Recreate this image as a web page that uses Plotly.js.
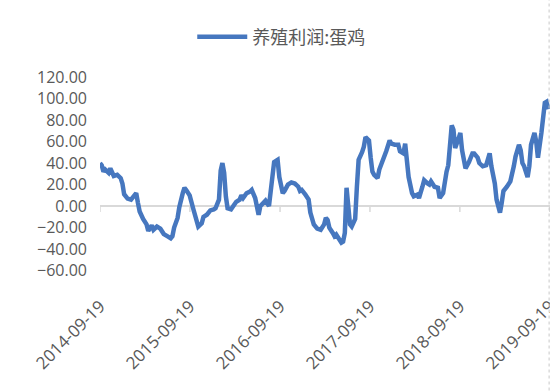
<!DOCTYPE html>
<html>
<head>
<meta charset="utf-8">
<script src="https://cdn.plot.ly/plotly-3.0.1.min.js"></script>
<style>html,body{margin:0;padding:0;background:#fff;}#chart{width:550px;height:391px;}</style>
</head>
<body>
<div id="chart"></div>
<script>
// Series name
const seriesName = '养殖利润:蛋鸡';
// Start date of the weekly series and week offsets of each sample
const startDate = '2014-09-19';
const weekIndex = [0,1,2,3,5,6,8,10,12,13,14,16,18,19,21,22,23,25,27,28,30,31,33,35,37,39,41,42,43,45,46,48,49,50,52,54,56,57,59,60,62,64,66,67,69,70,71,72,73,74,76,77,79,81,82,83,85,87,88,90,92,93,95,96,98,100,101,103,104,106,107,109,111,113,115,116,117,119,121,122,124,126,128,130,131,132,133,135,136,137,139,140,141,142,143,145,146,148,149,150,152,153,154,156,157,158,159,161,162,164,166,168,169,171,173,174,176,177,178,179,181,182,184,185,187,188,190,191,192,194,196,197,199,200,201,202,203,204,205,206,208,209,210,211,212,214,216,217,219,220,222,224,226,227,229,230,232,233,234,236,238,240,241,243,244,245,246,248,249,250,252,253,254,256,257,258,259,260];
// Profit values (yuan)
const profit = [40,38,32,34,31,35,28,29,26,21,11,7,6,8,12,3,-5,-12,-17,-23,-18,-22,-19,-21,-26,-28,-30,-28,-20,-11,-1,12,17,15,10,-2,-14,-19,-16,-10,-8,-4,-3,-2,6,33,40,31,9,-2,-3,0,4,6,10,7.5,12,13.5,15,7.5,-8,0,4,5,0,24,41,43,27,12,14,20,22,21,18,14,15,11,6,-6,-17,-21,-22,-17,-11,-13,-20,-25,-28,-26.5,-31,-34,-33,-25,17,-17,-19,-12,18,43,50,55,64,61,45,32,29,26,34,42,51,61,58,57,57,51,49,58,45,27,12,9,10.5,7.5,18,24,21,20,23,18,17,7.5,12,26,32,38,62,75,71,54,63,68,52,43,35,41,49,49,45,40,37,38,49,37,21,6,-6,3,14,18,23,37,46,57,52,40,37,27,37,57,68,60,45,68,86,96,97,90];
// Axis ticks
const xTickDates = ['2014-09-19','2015-09-19','2016-09-19','2017-09-19','2018-09-19','2019-09-19'];
const xTickLabels = ['2014-09-19','2015-09-19','2016-09-19','2017-09-19','2018-09-19','2019-09-19'];
const yTickVals = [-60,-40,-20,0,20,40,60,80,100,120];

const base = new Date(startDate + 'T00:00:00Z').getTime();
const dates = weekIndex.map(w => new Date(base + w * 7 * 86400000).toISOString().slice(0, 10));

const yRange = [-78, 120];
const xRange = ['2014-09-19', '2019-09-20'];

const trace = {
  x: dates, y: profit, type: 'scatter', mode: 'lines', name: seriesName,
  line: {color: '#4677BF', width: 4.5, shape: 'linear'},
  showlegend: true
};

// small tick marks hanging below the zero line at each tick date
const tickShapes = xTickDates.map(d => ({
  type: 'line', xref: 'x', x0: d, x1: d,
  yref: 'y', ysizemode: 'pixel', yanchor: 0, y0: 0, y1: -6,
  line: {color: '#d9d9d9', width: 1.5}, layer: 'below'
}));

const layout = {
  width: 550, height: 391,
  margin: {l: 100, r: 0, t: 77, b: 100.6, pad: 0, autoexpand: false},
  paper_bgcolor: '#ffffff', plot_bgcolor: '#ffffff',
  font: {family: '"Open Sans", "Noto Sans CJK SC", sans-serif', color: '#595959', size: 16},
  showlegend: true,
  legend: {
    orientation: 'h', x: 0.205, xanchor: 'left', y: 1.187, yanchor: 'middle',
    font: {family: '"Noto Sans CJK SC", sans-serif', size: 18, color: '#595959'},
    itemwidth: 50, bgcolor: 'rgba(0,0,0,0)'
  },
  xaxis: {
    type: 'date', range: xRange,
    tickmode: 'array', tickvals: xTickDates, ticktext: xTickLabels,
    tickangle: -45, ticks: '', showline: false, showgrid: false, zeroline: false,
    automargin: false, ticklabeloverflow: 'allow', ticklabelstandoff: 2,
    tickfont: {family: '"Open Sans", sans-serif', size: 17, color: '#595959'}
  },
  yaxis: {
    range: yRange, tickmode: 'array', tickvals: yTickVals, tickformat: '.2f',
    showgrid: false, zeroline: true, zerolinecolor: '#d9d9d9', zerolinewidth: 1.5,
    showline: false, ticks: '', automargin: false,
    ticklabelstandoff: 12,
    tickfont: {family: '"Open Sans", sans-serif', size: 16, color: '#595959'}
  },
  shapes: tickShapes.concat([{
    type: 'line', xref: 'paper', yref: 'paper', x0: 0.998, x1: 0.998, y0: -0.5, y1: 1.4,
    line: {color: '#c8c8c8', width: 1, dash: 'dot'}
  }])
};

Plotly.newPlot('chart', [trace], layout, {displayModeBar: false, staticPlot: true});
</script>
</body>
</html>
